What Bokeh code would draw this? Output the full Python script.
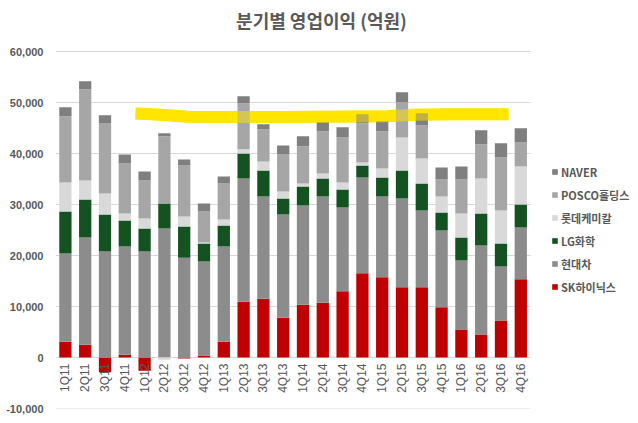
import numpy as np
from bokeh.plotting import figure
from bokeh.models import Range1d, Legend, LegendItem, NumeralTickFormatter, FixedTicker, ColumnDataSource, Label
from bokeh.core.properties import value
from bokeh.embed import file_html
from bokeh.resources import INLINE

cats = ["1Q11", "2Q11", "3Q11", "4Q11", "1Q12", "2Q12", "3Q12", "4Q12",
        "1Q13", "2Q13", "3Q13", "4Q13", "1Q14", "2Q14", "3Q14", "4Q14",
        "1Q15", "2Q15", "3Q15", "4Q15", "1Q16", "2Q16", "3Q16", "4Q16"]

sk_hynix = [3080, 2490, -2890, 520, -2620, 20, -200, 390, 3080, 10940, 11530, 7790,
            10350, 10740, 12970, 16510, 15720, 13760, 13760, 9830, 5500, 4520, 7270, 15330]
hyundai = [17290, 21020, 20760, 21230, 20760, 25260, 19580, 18410, 18670, 24170, 20040, 20240,
           19450, 20830, 16440, 18790, 15850, 17420, 15060, 15060, 13500, 17420, 10550, 10150]
lg_chem = [8250, 7470, 7270, 5110, 4520, 4920, 6100, 3540, 4120, 4910, 5110, 3150,
           3740, 3540, 3540, 2360, 3730, 5500, 5310, 3540, 4510, 6290, 4520, 4520]
lotte_chem = [5700, 3740, 4130, 1370, 1970, -460, 1960, 190, 1180, 790, 1770, 1370,
              590, 980, 1370, 590, 1770, 6480, 4910, 3140, 4720, 6880, 6480, 7470]
posco = [12970, 17880, 13820, 9830, 7470, 13160, 10020, 6090, 7080, 9040, 6290, 7270,
         7270, 8250, 8840, 7670, 7270, 6880, 6480, 3340, 6680, 6680, 10410, 4710]
naver = [1770, 1570, 1510, 1760, 1760, 590, 1180, 1580, 1370, 1370, 980, 1770,
         1960, 1770, 1970, 1760, 1970, 1970, 2360, 2360, 2560, 2750, 2760, 2750]

series_names = ["SK하이닉스", "현대차", "LG화학", "롯데케미칼", "POSCO홀딩스", "NAVER"]
series_values = [sk_hynix, hyundai, lg_chem, lotte_chem, posco, naver]
series_colors = ["#C00000", "#8C8C8C", "#145222", "#D9D9D9", "#A6A6A6", "#7F7F7F"]

# hand-drawn highlight stroke (x in category index units, y in 억원)
hl_x = [3.54, 4.64, 6.15, 11.2, 16.25, 17.6, 19.6, 22.38]
hl_y = [47820, 47650, 47200, 47170, 47300, 47600, 47720, 47720]

y_ticks = [-10000, 0, 10000, 20000, 30000, 40000, 50000, 60000]

TEXT = "#595959"
W, H = 638, 423
LEFT, BOTTOM = 55, 15
STEP = 19.8  # pixels per quarter
n = len(cats)
xs = np.arange(n)

p = figure(width=W, height=H,
           x_range=Range1d(-0.5, -0.5 + (W - LEFT) / STEP),
           y_range=Range1d(-10000, 70000),
           output_backend="svg", toolbar_location=None,
           min_border_left=LEFT, min_border_right=0, min_border_top=0, min_border_bottom=BOTTOM)
p.outline_line_color = None
p.xaxis.visible = False
p.xgrid.grid_line_color = None
p.ygrid.grid_line_color = None
p.yaxis.ticker = FixedTicker(ticks=y_ticks)
p.yaxis.formatter = NumeralTickFormatter(format="0,0")
p.yaxis.axis_line_color = None
p.yaxis.major_tick_line_color = None
p.yaxis.minor_tick_line_color = None
p.yaxis.major_tick_out = 0
p.yaxis.major_label_standoff = 12
p.yaxis.major_label_text_font = "Liberation Sans"
p.yaxis.major_label_text_font_style = "bold"
p.yaxis.major_label_text_font_size = "11px"
p.yaxis.major_label_text_color = TEXT

# horizontal gridlines limited to the plot area
p.segment(x0=[-0.5] * len(y_ticks), x1=[n - 0.5] * len(y_ticks), y0=y_ticks, y1=y_ticks,
          line_color="#D9D9D9", line_width=1)

# highlight underlay
p.line(hl_x, hl_y, line_width=12, line_color="#FFE500", line_cap="butt", line_join="round")

# stacked bars: positives upward, negatives downward
vals = np.array(series_values, dtype=float)
pos = np.where(vals > 0, vals, 0)
neg = np.where(vals < 0, vals, 0)
pos_cum = np.cumsum(pos, axis=0)
neg_cum = np.cumsum(neg, axis=0)
renderers = {}
for i, name in enumerate(series_names):
    top = np.where(vals[i] >= 0, pos_cum[i], neg_cum[i] - neg[i])
    bottom = np.where(vals[i] >= 0, pos_cum[i] - pos[i], neg_cum[i])
    src = ColumnDataSource(dict(x=xs, top=top, bottom=bottom))
    r = p.vbar(x="x", top="top", bottom="bottom", width=0.62, source=src,
               fill_color=series_colors[i], line_color=None)
    renderers[name] = r

# highlight overlay (translucent over bars)
p.line(hl_x, hl_y, line_width=12, line_color="#FFE500", line_alpha=0.5, line_cap="butt", line_join="round")

# category labels at the zero line
p.text(x=xs, y=[0] * n, text=cats, angle=np.pi / 2,
       text_align="right", text_baseline="middle", y_offset=6,
       text_font=value("Liberation Sans"), text_font_size="12px", text_color=TEXT)

# title
p.add_layout(Label(x=321 - LEFT, y=H - BOTTOM - 19, x_units="screen", y_units="screen",
                   text="분기별 영업이익 (억원)", text_align="center", text_baseline="middle",
                   text_font="Noto Sans CJK KR", text_font_style="bold",
                   text_font_size="18px", text_color=TEXT))

legend = Legend(items=[LegendItem(label=nm, renderers=[renderers[nm]]) for nm in reversed(series_names)],
                location=(551 - LEFT, 112), orientation="vertical",
                glyph_width=7, glyph_height=7, label_height=19, spacing=4,
                padding=0, margin=0, border_line_color=None, background_fill_alpha=0,
                label_standoff=3, label_text_font="Noto Sans CJK KR",
                label_text_font_style="bold", label_text_font_size="11px",
                label_text_color=TEXT)
p.add_layout(legend)

open("out.html", "w").write(file_html(p, INLINE))
